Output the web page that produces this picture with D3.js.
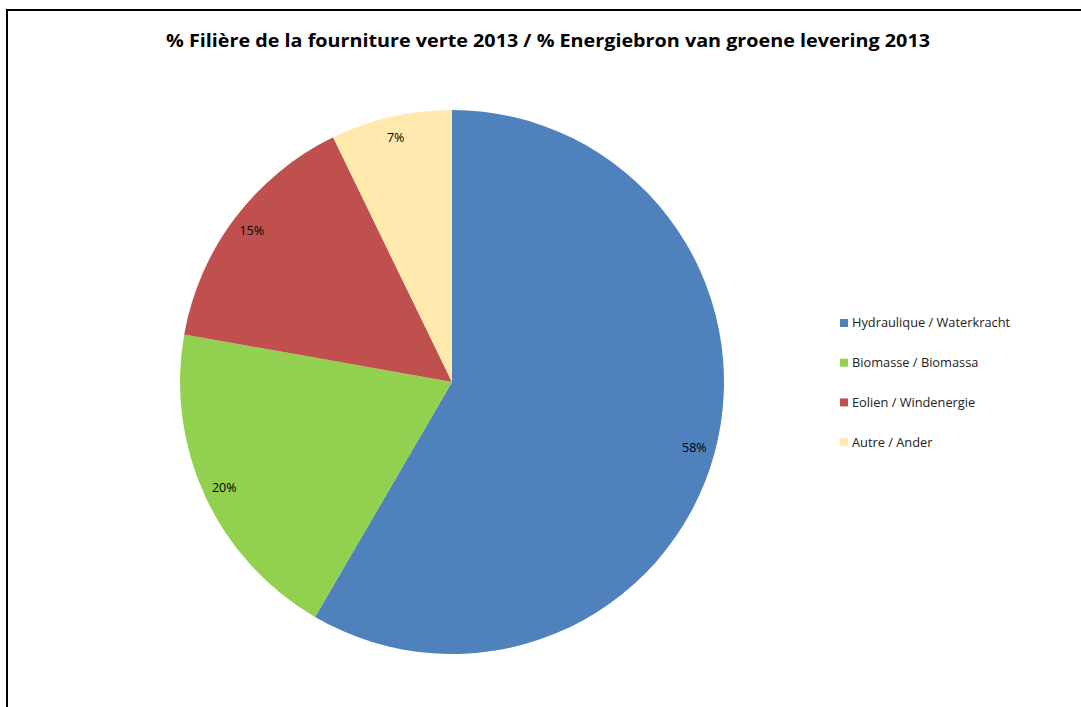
<!DOCTYPE html>
<html lang="fr">
<head>
    <meta charset="UTF-8">
    <title>Filière de la fourniture verte 2013</title>
    <style>
        body { margin: 0; background: #fff; }
        svg { display: block; }
    </style>
</head>
<body>
    <script src="https://cdnjs.cloudflare.com/ajax/libs/d3/7.8.5/d3.min.js"></script>
    <script>
        // data
        const categories = ['Hydraulique / Waterkracht', 'Biomasse / Biomassa', 'Eolien / Windenergie', 'Autre / Ander'];
        const values = [58.4, 19.4, 15.0, 7.2];
        const labels = ['58%', '20%', '15%', '7%'];
        const colors = ['#4F81BD', '#92D050', '#C0504D', '#FFE9AD'];

        const width = 1081, height = 707;
        const cx = 452, cy = 382, radius = 272;

        const svg = d3.select('body').append('svg')
            .attr('width', width)
            .attr('height', height);

        // chart frame (runs past the right and bottom edge)
        svg.append('rect')
            .attr('x', 7).attr('y', 10)
            .attr('width', width + 20).attr('height', height + 20)
            .attr('fill', 'none')
            .attr('stroke', '#000')
            .attr('stroke-width', 2);

        svg.append('text')
            .attr('x', 548).attr('y', 47)
            .attr('text-anchor', 'middle')
            .attr('font-family', 'Open Sans, sans-serif')
            .attr('font-weight', 'bold')
            .attr('font-size', 18.5)
            .attr('textLength', 764)
            .attr('lengthAdjust', 'spacingAndGlyphs')
            .text('% Filière de la fourniture verte 2013 / % Energiebron van groene levering 2013');

        const data = categories.map((c, i) => ({ name: c, value: values[i], label: labels[i], color: colors[i] }));

        const pie = d3.pie().sort(null).value(d => d.value);
        const arc = d3.arc().innerRadius(0).outerRadius(radius);
        const labelArc = d3.arc().innerRadius(251).outerRadius(251);

        const g = svg.append('g').attr('transform', `translate(${cx}, ${cy})`);

        const slices = g.selectAll('g.slice').data(pie(data)).enter().append('g').attr('class', 'slice');

        slices.append('path')
            .attr('d', arc)
            .attr('fill', d => d.data.color);

        slices.append('text')
            .attr('transform', d => `translate(${labelArc.centroid(d)})`)
            .attr('text-anchor', 'middle')
            .attr('dy', '0.35em')
            .attr('font-family', 'Open Sans, sans-serif')
            .attr('font-size', 12.5)
            .attr('fill', '#000')
            .text(d => d.data.label);

        // legend
        const legend = svg.append('g').attr('transform', 'translate(840, 323)');
        const items = legend.selectAll('g').data(data).enter().append('g')
            .attr('transform', (d, i) => `translate(0, ${i * 39.7})`);

        items.append('rect')
            .attr('x', 0).attr('y', -4)
            .attr('width', 8).attr('height', 8)
            .attr('fill', d => d.color);

        items.append('text')
            .attr('x', 12).attr('dy', '0.35em')
            .attr('font-family', 'Open Sans, sans-serif')
            .attr('font-size', 12.8)
            .attr('fill', '#222')
            .text(d => d.name);
    </script>
</body>
</html>
